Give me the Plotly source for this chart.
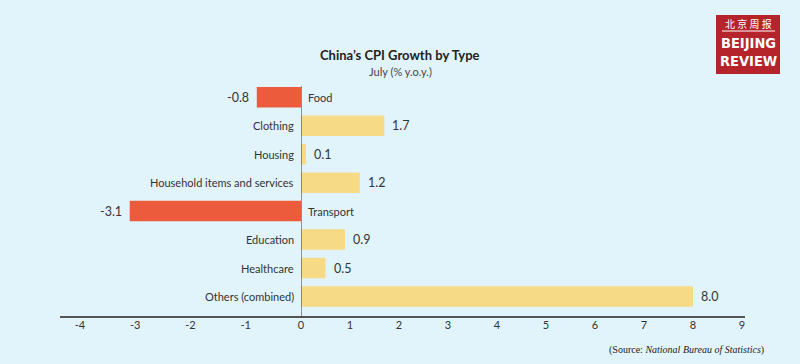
import plotly.graph_objects as go

categories = ["Food", "Clothing", "Housing", "Household items and services",
              "Transport", "Education", "Healthcare", "Others (combined)"]
values = [-0.8, 1.7, 0.1, 1.2, -3.1, 0.9, 0.5, 8.0]
neg_ticks = [-4, -3, -2, -1, 0]
pos_ticks = [1, 2, 3, 4, 5, 6, 7, 8, 9]

RED = "#EB5B3C"
YEL = "#F6DA86"
BG = "#E1F4FB"
TXT = "#333333"

W, H = 800, 364
left_px, zero_px, right_px = 60, 301, 745
top_px, bot_px = 83, 317
neg_per = (zero_px - 80) / 4.0
pos_per = (742 - zero_px) / 9.0
xmin = -(zero_px - left_px) / neg_per
xmax = (right_px - zero_px) / pos_per
split = (zero_px - left_px) / (right_px - left_px)


def py(p):
    return (bot_px - p) / (bot_px - top_px)


def px(p):
    return (p - left_px) / (right_px - left_px)


fig = go.Figure()
neg_cats = [c for c, v in zip(categories, values) if v < 0]
neg_vals = [v for v in values if v < 0]
pos_cats = [c for c, v in zip(categories, values) if v >= 0]
pos_vals = [v for v in values if v >= 0]

fig.add_trace(go.Bar(y=neg_cats, x=neg_vals, orientation="h", marker_color=RED,
                     marker_line_width=0, width=0.72, xaxis="x", yaxis="y",
                     hoverinfo="x+y"))
fig.add_trace(go.Bar(y=pos_cats, x=pos_vals, orientation="h", marker_color=YEL,
                     marker_line_width=0, width=0.72, xaxis="x2", yaxis="y",
                     hoverinfo="x+y"))

annotations = []
for c, v in zip(categories, values):
    if v < 0:
        annotations.append(dict(x=0, y=c, xref="x2", yref="y", text=c, showarrow=False,
                                xanchor="left", yanchor="middle", xshift=5,
                                font=dict(size=11, color=TXT)))
        annotations.append(dict(x=v, y=c, xref="x", yref="y", text=f"{v:.1f}", showarrow=False,
                                xanchor="right", yanchor="middle", xshift=-6,
                                font=dict(size=12.5, color=TXT)))
    else:
        annotations.append(dict(x=0, y=c, xref="x", yref="y", text=c, showarrow=False,
                                xanchor="right", yanchor="middle", xshift=-5,
                                font=dict(size=11, color=TXT)))
        annotations.append(dict(x=v, y=c, xref="x2", yref="y", text=f"{v:.1f}", showarrow=False,
                                xanchor="left", yanchor="middle", xshift=6,
                                font=dict(size=12.5, color=TXT)))


def paper_note(xp, yp, text, font, xanchor="center"):
    annotations.append(dict(x=px(xp), y=py(yp), xref="paper", yref="paper", text=text,
                            showarrow=False, xanchor=xanchor, yanchor="middle", font=font))


paper_note(400, 55, "<b>China’s CPI Growth by Type</b>", dict(size=13, color="#222222"))
paper_note(400, 72, "July (% y.o.y.)", dict(size=11, color="#444444"))
paper_note(766, 350, "(Source: <i>National Bureau of Statistics</i>)",
           dict(size=10, color="#222222", family="Liberation Serif, Times New Roman, serif"),
           xanchor="right")
# logo text
paper_note(748.5, 23, "北 京 周 报", dict(size=10, color="white", family="Noto Sans CJK SC"))
logo_font = dict(size=14.5, color="white",
                 family="Liberation Sans Narrow, Arial Narrow, DejaVu Sans Condensed, sans-serif")
paper_note(748, 43, "<b>BEIJING</b>", logo_font)
paper_note(748, 61, "<b>REVIEW</b>", logo_font)

shapes = [
    dict(type="line", xref="paper", yref="paper", x0=0, x1=1, y0=0, y1=0,
         line=dict(color="#555555", width=2)),
    dict(type="line", xref="x2", yref="paper", x0=0, x1=0, y0=0, y1=py(86),
         line=dict(color="#333333", width=1)),
    dict(type="rect", xref="paper", yref="paper", x0=px(716), x1=px(780), y0=py(74), y1=py(15),
         fillcolor="#B5242B", line=dict(width=0), layer="below"),
    dict(type="line", xref="paper", yref="paper", x0=px(722), x1=px(775), y0=py(31), y1=py(31),
         line=dict(color="white", width=1), layer="above"),
]

fig.update_layout(
    width=W, height=H,
    paper_bgcolor=BG, plot_bgcolor=BG,
    margin=dict(l=left_px, r=W - right_px, t=top_px, b=H - bot_px, pad=0, autoexpand=False),
    showlegend=False,
    font=dict(family="Lato, Open Sans, sans-serif", color=TXT),
    xaxis=dict(domain=[0, split], range=[xmin, 0], tickvals=neg_ticks,
               ticktext=[str(t) for t in neg_ticks], showgrid=False, zeroline=False,
               showline=False, ticks="", tickfont=dict(size=11, color=TXT),
               fixedrange=True, anchor="y"),
    xaxis2=dict(domain=[split, 1], range=[0, xmax], tickvals=pos_ticks,
                ticktext=[str(t) for t in pos_ticks], showgrid=False, zeroline=False,
                showline=False, ticks="", tickfont=dict(size=11, color=TXT),
                fixedrange=True, anchor="y"),
    yaxis=dict(categoryorder="array", categoryarray=categories, range=[7.72, -0.5],
               showticklabels=False, showgrid=False, zeroline=False, showline=False,
               fixedrange=True),
    annotations=annotations,
    shapes=shapes,
)

fig.write_html("out.html", config={"displayModeBar": False},
               post_script="document.body.style.margin='0';document.body.style.overflow='hidden';")
